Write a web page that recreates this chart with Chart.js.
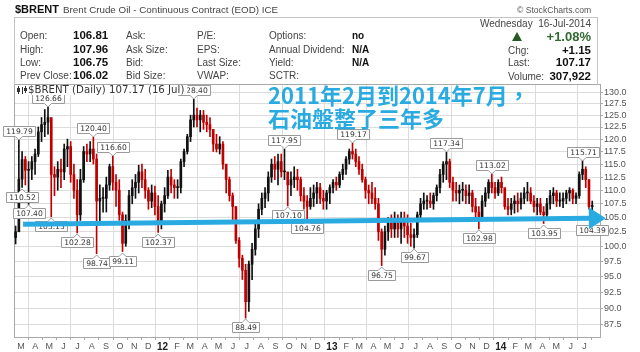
<!DOCTYPE html>
<html><head><meta charset="utf-8">
<script src="https://cdn.jsdelivr.net/npm/chart.js@4.4.0/dist/chart.umd.min.js"></script>
<style>
html,body{margin:0;padding:0;background:#fff;}
#wrap{position:relative;width:640px;height:352px;overflow:hidden;font-family:"Liberation Sans",Arial,sans-serif;background:#fff;}
#c{position:absolute;left:0;top:0;}
.t{position:absolute;white-space:nowrap;line-height:1;}
.lb{font-size:10px;color:#444;}
.vb{font-size:11.5px;font-weight:bold;color:#111;}
.cn{font-family:"Noto Sans CJK TC","Noto Sans CJK SC",sans-serif;font-size:22px;font-weight:bold;color:#29abe2;}
</style></head><body>
<div id="wrap">
<canvas id="c" width="640" height="352"></canvas>
<div class="t" style="left:15px;top:4px;font-size:11px;font-weight:bold;color:#111">$BRENT</div>
<div class="t" style="left:63px;top:5px;font-size:9.8px;color:#444">Brent Crude Oil - Continuous Contract (EOD) ICE</div>
<div class="t" style="left:517px;top:6px;font-size:8.6px;color:#555">© StockCharts.com</div>
<div style="position:absolute;left:14px;top:17px;width:584px;height:68px;border:1px solid #c4c4c4;border-bottom:none;box-sizing:border-box"></div>
<div class="t lb" style="left:20px;top:31px">Open:</div><div class="t vb" style="left:73px;top:30px">106.81</div>
<div class="t lb" style="left:20px;top:45px">High:</div><div class="t vb" style="left:73px;top:44px">107.96</div>
<div class="t lb" style="left:20px;top:58px">Low:</div><div class="t vb" style="left:73px;top:57px">106.75</div>
<div class="t lb" style="left:20px;top:71px">Prev Close:</div><div class="t vb" style="left:73px;top:70px">106.02</div>
<div class="t lb" style="left:126px;top:31px">Ask:</div>
<div class="t lb" style="left:126px;top:45px">Ask Size:</div>
<div class="t lb" style="left:126px;top:58px">Bid:</div>
<div class="t lb" style="left:126px;top:71px">Bid Size:</div>
<div class="t lb" style="left:197px;top:31px">P/E:</div>
<div class="t lb" style="left:197px;top:45px">EPS:</div>
<div class="t lb" style="left:197px;top:58px">Last Size:</div>
<div class="t lb" style="left:197px;top:71px">VWAP:</div>
<div class="t lb" style="left:269px;top:31px">Options:</div><div class="t" style="left:352px;top:31px;font-size:10px;font-weight:bold;color:#111">no</div>
<div class="t lb" style="left:269px;top:45px">Annual Dividend:</div><div class="t" style="left:352px;top:45px;font-size:10px;font-weight:bold;color:#111">N/A</div>
<div class="t lb" style="left:269px;top:58px">Yield:</div><div class="t" style="left:352px;top:58px;font-size:10px;font-weight:bold;color:#111">N/A</div>
<div class="t lb" style="left:269px;top:71px">SCTR:</div>
<div class="t lb" style="right:49px;top:19px">Wednesday&nbsp; 16-Jul-2014</div>
<div style="position:absolute;left:512px;top:32px;width:0;height:0;border-left:5px solid transparent;border-right:5px solid transparent;border-bottom:9px solid #245a24"></div>
<div class="t" style="right:49px;top:29.5px;font-size:13px;font-weight:bold;color:#2f6a2f">+1.08%</div>
<div class="t lb" style="left:508px;top:46px">Chg:</div><div class="t vb" style="right:49px;top:45px">+1.15</div>
<div class="t lb" style="left:508px;top:58px">Last:</div><div class="t vb" style="right:49px;top:57px">107.17</div>
<div class="t lb" style="left:508px;top:72px">Volume:</div><div class="t vb" style="right:49px;top:71px">307,922</div>
<div class="t cn" style="left:268px;top:83px">2011年2月到2014年7月，</div>
<div class="t cn" style="left:268px;top:106px">石油盤整了三年多</div>
</div>
<script>
// ---- data: weekly bars, week 0 = week of 14-Feb-2011 ----
const firstWeekOpen = 101.5;
const weekHigh = [103.5,119.79,117.5,116.5,115.5,116.5,118,122.5,124.5,126.2,
126.66,124,114.5,115.5,116,119,120,119.5,115,112,
114,118.5,119,119.5,120.40,117,111,110.5,112.5,115,
116.60,113,112,106,105.5,110,112,113,114.8,115,
114,110.5,111,110.8,109,108,110.5,113.8,114,112,
112,116,118,121,125,128.40,126.5,126,126,125,
124.5,122,121,120.5,119.5,114.5,112.5,109.5,107,101.5,
98.5,97,97.5,100.5,104.5,107.5,109.5,110.5,113.5,116,
116.5,117,117,117.95,113,113.5,114.5,114,112.5,110.5,
109,110.5,111,111.5,111.3,110,110,111,112,112.5,
113.5,115,116.5,118,119.17,118,116.5,115,112.5,111,
111.5,110.5,108.5,103,103.5,105,105.5,106,105.5,106,
106,105.5,104,103,106,108.5,109.5,109,109.5,109.5,
111,114,115.5,117.34,116,112.5,111.5,111,111.5,111,
111,110,108.5,107,109,110.5,112,113.02,111.5,112,
112.5,110,108.5,108.5,109,109.5,109.5,110.5,111.5,110.5,
109,108.5,108.5,107,108.5,110,110.5,110,109.5,109.5,
110,110.5,110.3,109.5,113.5,115.71,114.5,112,108];
const weekLow = [100.4,103.5,110.52,111,107.40,112,113,116.5,119.5,120.5,
121,105.15,109,110,110.5,112,114.5,111.5,108.5,102.28,
104.5,111.5,115.5,115.5,115,98.74,104,106,106,110,
110,107,104.5,99.11,100,103,107.5,108.5,109.5,110.5,
108.5,106.5,106.8,105.5,102.37,103,106,108.5,109.5,108.5,
108.5,109.5,114.5,117,119.5,122.5,122.5,121.5,122,121.5,
120.5,117.5,117.4,117,114,109.5,108,104.5,100.5,96.5,
94.5,88.49,89.5,94.5,98.5,101.5,105.5,106.8,108,111.5,
112,111,112.5,112,107.10,109,110.5,110,108,106.5,
104.76,106.5,107,107.5,107.5,106.5,106.5,107.5,109.5,110,
110.5,112,113,115,116,114.5,113,111.5,108.5,107.5,
107.5,106.5,101,96.75,98.5,101,101.5,101.5,101.5,100.5,
101.5,100.5,100,99.67,101.5,104.5,106.5,106.5,106.8,106.5,
108,109.5,111.5,112,110.5,108,108,107.5,108,107.5,
107.5,106,105,102.98,104.5,107,108.5,109.5,108.5,109,
109.5,106.5,105.5,105.5,105.8,106,106.5,107.5,108,107.5,
106,105.5,105.5,103.95,104.5,106.5,107.5,107,107,106.8,
107.5,108,107.5,107.5,108.5,112,110.5,106.5,104.39];
const weekClose = [102.5,112.1,115.9,113.8,114,115.5,117,121.5,123,123.5,
124.5,113,112.5,114,113.5,118,118.5,113,110,105.5,
112,117.5,117,118,116,108,108.5,108.5,111,114.5,
111.5,110,105.5,100.5,104.5,109,110.5,111.5,113.5,112,
110,108,109.5,107,104,107.5,109,112.5,111,110.5,
110.5,115.5,117.5,120.5,124,125,124,125,123.5,123,
122,119,118,119,115,112,109,107,101,98,
96,91,97,99.5,103,106.5,108.5,109.5,112.5,115,
114,115.5,113.5,113.5,111,112,112.5,112,109,108,
107,108.5,109.5,110.5,108.5,108,109.5,110.5,111.5,111,
113,114,116,117.5,117,115.5,114,112,110,109.5,
108.5,107.5,102.5,99.5,102.5,104,103,104.5,103,104.5,
103.5,102,101.5,102,105.5,107.5,108,108,107.5,109,
110.5,113,115,115.5,111.5,110,109.5,110,110,109,
109.5,107,106,105,108,109.5,111.5,110.5,109.5,111.5,
110.5,107,106.5,107.5,108,107.5,108.5,109.5,109.5,108,
107,107.5,106,105.5,107.5,109,109.5,108,108,108.5,
109.5,110,108.5,109,113,114,112,107,107.17];
const yTickValues = [87.5,90,92.5,95,97.5,100,102.5,105,107.5,110,112.5,115,117.5,120,122.5,125,127.5,130];
const monthLetters = ['J','F','M','A','M','J','J','A','S','O','N','D'];
const peakWeeks = [1,10,24,30,55,83,104,133,147,175];
const peakLabels = ['119.79','126.66','120.40','116.60','128.40','117.95','119.17','117.34','113.02','115.71'];
const troughWeeks = [2,4,11,19,25,33,44,71,84,90,113,123,143,163,178];
const troughLabels = ['110.52','107.40','105.15','102.28','98.74','99.11','102.37','88.49','107.10','104.76','96.75','99.67','102.98','103.95','104.39'];
const trendArrow = {fromWeek: 2.3, fromPrice: 103.8, toWeek: 182.2, toPrice: 104.9};
const legendText = '$BRENT (Daily) 107.17 (16 Jul)';

// ---- derived tables ----
const DAY = 86400000, week0 = Date.UTC(2011,1,14);
const monthTickPos = [], monthTickLabels = [], monthIsYear = [], monthIsQuarter = [];
for (let y = 2011, m = 2; y < 2014 || (y === 2014 && m <= 6);) {
  const d = (Date.UTC(y, m, 1) - week0) / DAY;
  monthTickPos.push(d / 7 - 0.5);
  monthTickLabels.push(m === 0 ? String(y).slice(2) : monthLetters[m]);
  monthIsYear.push(m === 0);
  monthIsQuarter.push(m % 3 === 0);
  m++; if (m > 11) { m = 0; y++; }
}
const idx = weekClose.map((_, i) => i);
const weekOpen = weekClose.map((c, i) => i === 0 ? firstWeekOpen : weekClose[i - 1]);
const up = i => weekClose[i] >= weekOpen[i];
const colUp = '#111111', colDn = '#c00000';

const framePlugin = {
  id: 'frame',
  beforeDatasetsDraw(chart) {
    const a = chart.chartArea, ctx = chart.ctx;
    ctx.save(); ctx.strokeStyle = '#a8a8a8'; ctx.lineWidth = 1;
    ctx.strokeRect(a.left + 0.5, a.top + 0.5, a.right - a.left, a.bottom - a.top);
    ctx.restore();
  }
};
function drawTag(ctx, x, y, text, above) {
  ctx.font = '7.6px "DejaVu Sans"';
  const w = Math.round(ctx.measureText(text).width + 5), h = 10, g = 4;
  const left = Math.round(x - w / 2) + 0.5;
  const top = above ? Math.round(y - g - h) + 0.5 : Math.round(y + g) + 0.5;
  ctx.fillStyle = '#fff'; ctx.strokeStyle = '#9a9a9a'; ctx.lineWidth = 1;
  ctx.beginPath();
  if (above) {
    ctx.moveTo(left, top); ctx.lineTo(left + w, top); ctx.lineTo(left + w, top + h);
    ctx.lineTo(x + 3.5, top + h); ctx.lineTo(x, top + h + g - 0.5); ctx.lineTo(x - 3.5, top + h);
    ctx.lineTo(left, top + h); ctx.closePath();
  } else {
    ctx.moveTo(left, top); ctx.lineTo(x - 3.5, top); ctx.lineTo(x, top - g + 0.5); ctx.lineTo(x + 3.5, top);
    ctx.lineTo(left + w, top); ctx.lineTo(left + w, top + h); ctx.lineTo(left, top + h); ctx.closePath();
  }
  ctx.fill(); ctx.stroke();
  ctx.fillStyle = '#333'; ctx.textAlign = 'center'; ctx.textBaseline = 'middle';
  ctx.fillText(text, left + w / 2, top + h / 2 + 0.5);
}
const tagPlugin = {
  id: 'tags',
  afterDatasetsDraw(chart) {
    const xs = chart.scales.x, ys = chart.scales.y, ctx = chart.ctx;
    ctx.save();
    peakWeeks.forEach((w, k) => drawTag(ctx, xs.getPixelForValue(w), ys.getPixelForValue(parseFloat(peakLabels[k])), peakLabels[k], true));
    troughWeeks.forEach((w, k) => drawTag(ctx, xs.getPixelForValue(w), ys.getPixelForValue(parseFloat(troughLabels[k])), troughLabels[k], false));
    ctx.restore();
  }
};
const overlayPlugin = {
  id: 'overlay',
  afterDraw(chart) {
    const xs = chart.scales.x, ys = chart.scales.y, ctx = chart.ctx, a = chart.chartArea;
    // trend arrow
    const x0 = xs.getPixelForValue(trendArrow.fromWeek), y0 = ys.getPixelForValue(trendArrow.fromPrice);
    const x1 = xs.getPixelForValue(trendArrow.toWeek), y1 = ys.getPixelForValue(trendArrow.toPrice);
    const ang = Math.atan2(y1 - y0, x1 - x0), L = 17, W = 11;
    const bx = x1 - L * Math.cos(ang), by = y1 - L * Math.sin(ang);
    ctx.save();
    ctx.strokeStyle = '#29abe2'; ctx.fillStyle = '#29abe2'; ctx.lineWidth = 5;
    ctx.beginPath(); ctx.moveTo(x0, y0); ctx.lineTo(bx + Math.cos(ang), by + Math.sin(ang)); ctx.stroke();
    ctx.beginPath(); ctx.moveTo(x1, y1);
    ctx.lineTo(bx + W * Math.sin(ang), by - W * Math.cos(ang));
    ctx.lineTo(bx - W * Math.sin(ang), by + W * Math.cos(ang));
    ctx.closePath(); ctx.fill();
    // legend
    ctx.font = '10.2px "DejaVu Sans"';
    const tw = ctx.measureText(legendText).width;
    ctx.fillStyle = '#fff'; ctx.fillRect(a.left + 1, a.top + 1, tw + 16, 10);
    ctx.fillStyle = '#333'; ctx.textBaseline = 'middle'; ctx.textAlign = 'left';
    ctx.fillText(legendText, a.left + 14, a.top + 6);
    ctx.strokeStyle = '#333'; ctx.lineWidth = 1;
    ctx.beginPath();
    ctx.moveTo(a.left + 4.5, a.top + 2); ctx.lineTo(a.left + 4.5, a.top + 10);
    ctx.moveTo(a.left + 8.5, a.top + 3); ctx.lineTo(a.left + 8.5, a.top + 10);
    ctx.moveTo(a.left + 11.5, a.top + 2); ctx.lineTo(a.left + 11.5, a.top + 9);
    ctx.stroke();
    ctx.fillStyle = '#333';
    ctx.fillRect(a.left + 3, a.top + 4, 3, 4); ctx.fillRect(a.left + 10, a.top + 4, 3, 3);
    ctx.restore();
  }
};

new Chart(document.getElementById('c'), {
  type: 'bar',
  data: {
    datasets: [
      { data: idx.map(i => ({ x: i, y: [weekLow[i], weekHigh[i]] })), barThickness: 1,
        backgroundColor: c => up(c.dataIndex) ? colUp : colDn, borderWidth: 0, grouped: false, order: 2 },
      { data: idx.map(i => ({ x: i, y: [Math.min(weekOpen[i], weekClose[i]), Math.max(weekOpen[i], weekClose[i])] })), barThickness: 2,
        backgroundColor: c => up(c.dataIndex) ? colUp : colDn, borderWidth: 0, grouped: false, order: 1, minBarLength: 1 }
    ]
  },
  options: {
    responsive: false, animation: false, devicePixelRatio: 1,
    layout: { padding: { left: 14, top: 84, right: 0, bottom: 0 } },
    plugins: { legend: { display: false }, tooltip: { enabled: false } },
    scales: {
      x: {
        type: 'linear', min: -0.5, max: 180.4, bounds: 'data', offset: false,
        afterBuildTicks: s => { s.ticks = monthTickPos.map(v => ({ value: v })); },
        afterFit: s => { s.height = 15; },
        ticks: {
          autoSkip: false, maxRotation: 0, padding: 1,
          callback: (v, i) => monthTickLabels[i],
          font: c => monthIsYear[c.index] ? { family: 'Liberation Sans', size: 10, weight: 'bold' } : { family: 'Liberation Sans', size: 9 },
          color: c => monthIsYear[c.index] ? '#222' : '#555'
        },
        grid: { color: c => monthIsQuarter[c.index] ? '#dcdcdc' : 'rgba(0,0,0,0)', tickColor: '#aaa', tickLength: 3, lineWidth: 1 },
        border: { display: false }
      },
      y: {
        type: 'logarithmic', position: 'right', min: 85.7, max: 131.8, bounds: 'data',
        afterBuildTicks: s => { s.ticks = yTickValues.map(v => ({ value: v })); },
        afterFit: s => { s.width = 40; },
        ticks: { autoSkip: false, padding: 1, callback: v => Number(v).toFixed(1), font: { family: 'Liberation Sans', size: 9 }, color: '#555' },
        grid: { color: '#dcdcdc', tickColor: '#aaa', tickLength: 3, lineWidth: 1 },
        border: { display: false }
      }
    }
  },
  plugins: [framePlugin, tagPlugin, overlayPlugin]
});
</script>
</body></html>
